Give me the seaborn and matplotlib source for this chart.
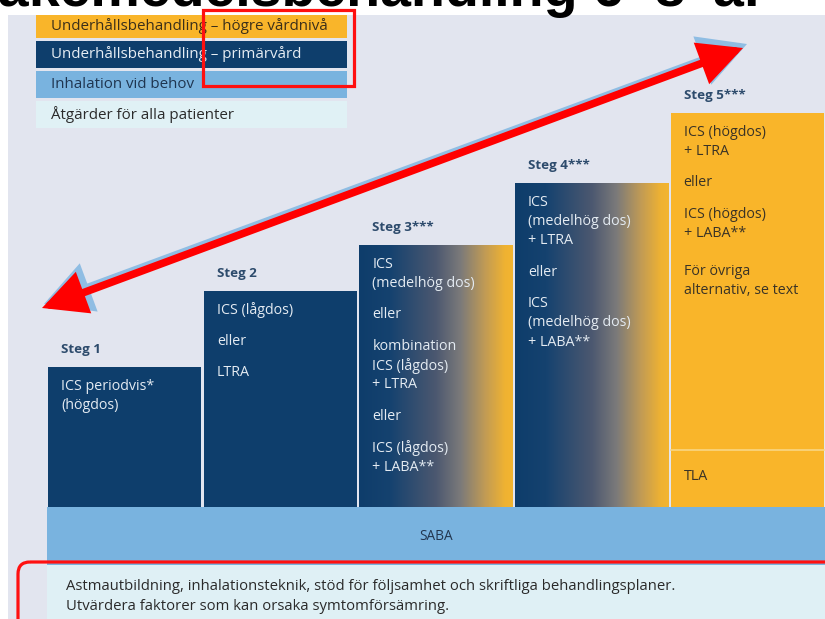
import numpy as np
import pandas as pd
import matplotlib
matplotlib.use("Agg")
import matplotlib.pyplot as plt
import seaborn as sns
from matplotlib.patches import Rectangle, FancyBboxPatch, FancyArrowPatch
from matplotlib.colors import LinearSegmentedColormap

# ---------------- data ----------------
title = "Läkemedelsbehandling 6–8\u2002år"
steps = ["Steg 1", "Steg 2", "Steg 3***", "Steg 4***", "Steg 5***"]
step_levels = [140, 216, 262, 324, 394]
step_kind = ["primar", "primar", "gradient", "gradient", "hogre"]
step_text = [
    [["ICS periodvis*", "(högdos)"]],
    [["ICS (lågdos)"], ["eller"], ["LTRA"]],
    [["ICS", "(medelhög dos)"], ["eller"], ["kombination", "ICS (lågdos)", "+ LTRA"],
     ["eller"], ["ICS (lågdos)", "+ LABA**"]],
    [["ICS", "(medelhög dos)", "+ LTRA"], ["eller"], ["ICS", "(medelhög dos)", "+ LABA**"]],
    [["ICS (högdos)", "+ LTRA"], ["eller"], ["ICS (högdos)", "+ LABA**"],
     ["För övriga", "alternativ, se text"]],
]
tla_label = "TLA"
tla_level = 57
legend_labels = ["Underhållsbehandling – högre vårdnivå",
                 "Underhållsbehandling – primärvård",
                 "Inhalation vid behov",
                 "Åtgärder för alla patienter"]
saba_label = "SABA"
base_text = ["Astmautbildning, inhalationsteknik, stöd för följsamhet och skriftliga behandlingsplaner.",
             "Utvärdera faktorer som kan orsaka symtomförsämring."]

# ---------------- style ----------------
YELLOW = "#f9b52a"
NAVY = "#0e3e6c"
LIGHTBLUE = "#79b3df"
PALE = "#dff0f5"
PANEL = "#e2e5ef"
LABEL = "#2d4b6c"
BODY = ["Open Sans", "DejaVu Sans"]
kind_color = {"primar": NAVY, "gradient": NAVY, "hogre": YELLOW}
kind_text = {"primar": "#e4ebf2", "gradient": "#e4ebf2", "hogre": "#3a3326"}
grad_cmap = LinearSegmentedColormap.from_list(
    "g", [(0.0, "#0e3d6b"), (0.2, "#15426f"), (0.5, "#4c5870"), (0.66, "#7b7a7a"),
          (0.82, "#c19b55"), (0.95, "#efb232"), (1.0, "#f3b530")])

sns.set_theme(style="white")
plt.rcParams["font.family"] = BODY

W, H = 825, 619
fig = plt.figure(figsize=(W / 100, H / 100), dpi=100)
fig.patch.set_facecolor("white")

# background axes in pixel coordinates
ax = fig.add_axes([0, 0, 1, 1])
ax.set_xlim(0, W)
ax.set_ylim(H, 0)
ax.axis("off")
ax.add_patch(Rectangle((8, 15), W - 8, H - 15, color=PANEL, lw=0))

# title (cut by top edge)
ax.text(-36, 6, title, fontsize=40, fontweight="bold", family=["Liberation Sans", "DejaVu Sans"],
        va="baseline", ha="left", color="black", zorder=10)

# legend boxes
leg_colors = [YELLOW, NAVY, LIGHTBLUE, "#e0f1f5"]
leg_tcolors = ["#3b2f1a", "#e6edf4", "#1f3550", "#2b2b2b"]
leg_top = [15, 41, 71, 101]
leg_h = [23, 27, 27, 27]
for lab, c, tc, t, h in zip(legend_labels, leg_colors, leg_tcolors, leg_top, leg_h):
    ax.add_patch(Rectangle((36, t), 311, h, color=c, lw=0))
    ax.text(51, t + h / 2, lab, fontsize=10.9, color=tc, va="center", ha="left", fontweight="medium")

# SABA band and base band
BASE = 507
ax.add_patch(Rectangle((47, BASE), W - 47, 58, color=LIGHTBLUE, lw=0))
ax.text(436, BASE + 30, saba_label, fontsize=9.8, color="#22364f", ha="center", va="center",
        fontweight="medium")
ax.add_patch(Rectangle((47, BASE + 58), W - 47, H - BASE - 58, color=PALE, lw=0))
for i, line in enumerate(base_text):
    ax.text(66, 587 + 19 * i, line, fontsize=10.7, color="#2a2a2a", ha="left", va="center",
            fontweight="medium")

# steps axes
slot = (W - 47) / 5
axs = fig.add_axes([47 / W, (H - BASE) / H, (W - 47) / W, BASE / H])
axs.patch.set_alpha(0)
df = pd.DataFrame({"steg": steps, "niva": step_levels, "typ": step_kind})
sns.barplot(data=df, x="steg", y="niva", hue="steg", palette=[kind_color[k] for k in step_kind],
            width=0.985, saturation=1, linewidth=0, legend=False, ax=axs)
grad = np.linspace(0, 1, 256).reshape(1, -1)
for p, kind, name, paras in zip(axs.patches, step_kind, steps, step_text):
    x0, w, h = p.get_x(), p.get_width(), p.get_height()
    if kind == "gradient":
        im = axs.imshow(grad, cmap=grad_cmap, extent=[x0, x0 + w, 0, h], aspect="auto",
                        zorder=p.get_zorder() + 0.1, interpolation="bilinear")
        im.set_clip_path(p)
    tx = x0 + 13 / slot
    axs.text(tx, h + 17, name, fontsize=9.6, fontweight="bold", color=LABEL, va="center", ha="left")
    y = h - 19
    for pi, para in enumerate(paras):
        if pi > 0:
            y -= 38 if (kind == "hogre" and pi == 3) else 31.5
        for li, line in enumerate(para):
            if li > 0:
                y -= 19.3
            axs.text(tx, y, line, fontsize=10.3, color=kind_text[kind], va="center", ha="left",
                     fontweight="medium", zorder=5)
    if kind == "hogre":
        axs.plot([x0, x0 + w], [tla_level, tla_level], color="#f8d37c", lw=1.3, zorder=4)
        axs.text(tx, tla_level - 26, tla_label, fontsize=10.3, color=kind_text[kind], va="center",
                 ha="left", fontweight="medium", zorder=5)
axs.set_xlim(-0.5, 4.5)
axs.set_ylim(0, BASE)
axs.axis("off")

# overlay annotations
ov = fig.add_axes([0, 0, 1, 1], zorder=10)
ov.set_xlim(0, W)
ov.set_ylim(H, 0)
ov.axis("off")
ov.patch.set_alpha(0)
ov.add_patch(Rectangle((203, 10), 151, 76, fill=False, ec="#ff1010", lw=2.3))
ov.add_patch(FancyBboxPatch((18, 562), 840, 90, boxstyle="round,pad=0,rounding_size=12",
                            fill=False, ec="#ff1010", lw=2.3))
shadow = FancyArrowPatch((44, 304), (747, 44), arrowstyle="<|-|>,head_length=2.5,head_width=1.35",
                         mutation_scale=10, lw=6, color="#8fbde3", shrinkA=0, shrinkB=0,
                         joinstyle="miter")
ov.add_patch(shadow)
arrow = FancyArrowPatch((42, 308), (743, 48), arrowstyle="<|-|>,head_length=2.3,head_width=1.15",
                        mutation_scale=10, lw=5.5, color="#ff0000", shrinkA=0, shrinkB=0,
                        joinstyle="miter")
ov.add_patch(arrow)

fig.savefig("out.png", dpi=100)
